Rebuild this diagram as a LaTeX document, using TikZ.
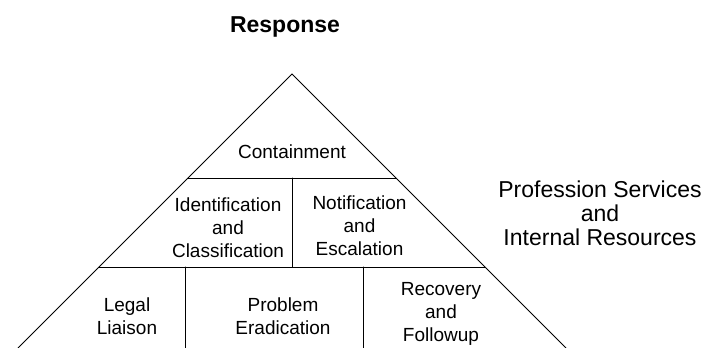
\documentclass[tikz,border=0pt]{standalone}
\usepackage{fontspec}
\setmainfont{Liberation Sans}
\tikzset{
  edge/.style={line width=0.035cm, line cap=round},
  celltext/.style={align=center, inner sep=0pt, font=\fontsize{19bp}{23bp}\selectfont},
  sidetext/.style={align=center, inner sep=0pt, font=\fontsize{23bp}{24bp}\selectfont},
  titletext/.style={inner sep=0pt, font=\fontsize{23bp}{28bp}\selectfont\bfseries}
}
\begin{document}
\begin{tikzpicture}
            \useasboundingbox (0,0) rectangle (24.870833,12.276667);
            
            % Corners of the pyramid
            \coordinate (apex) at (10.301111,9.666111);
            \coordinate (baseL) at (0.635000,0.000000);
            \coordinate (baseR) at (19.967222,0.000000);
            
            % Ends of the two dividing lines
            \coordinate (topL) at (6.632222,5.997222);
            \coordinate (topR) at (13.970000,5.997222);
            \coordinate (topM) at (10.301111,5.997222);
            \coordinate (midL) at (3.492500,2.857500);
            \coordinate (midR) at (17.109722,2.857500);
            \coordinate (midM) at (10.301111,2.857500);
            \coordinate (midA) at (6.526389,2.857500);
            \coordinate (midB) at (12.805833,2.857500);
            \coordinate (botA) at (6.526389,0.000000);
            \coordinate (botB) at (12.805833,0.000000);
            
            % Drawing sides of the pyramid
            \draw [edge] (baseL) -- (apex) -- (baseR);%
            
            % Drawing segment topL topR
            \draw [edge] (topL) -- (topR);%
            \draw [edge] (topM) -- (midM);%
            
            % Drawing segment midL midR
            \draw [edge] (midL) -- (midR);%
            \draw [edge] (midA) -- (botA);%
            \draw [edge] (midB) -- (botB);%
            
            % Title
            \node [titletext] (title) at (10.054167,11.338280) {Response};%
            
            % Texts of the cells
            \node [celltext] (contain) at (10.301111,6.928556) {Containment};%
            \node [celltext] (ident) at (8.043333,4.243917) {Identification\\and\\Classification};%
            \node [celltext] (notif) at (12.682361,4.321528) {Notification\\and\\Escalation};%
            \node [celltext] (legal) at (4.480278,1.111250) {Legal\\Liaison};%
            \node [celltext] (eradic) at (9.983611,1.128889) {Problem\\Eradication};%
            \node [celltext] (recov) at (15.557500,1.217000) {Recovery\\and\\Followup};%
            
            % Text beside the pyramid
            \node [sidetext] (resources) at (21.166667,4.762500) {Profession Services\\and\\Internal Resources};%
        \end{tikzpicture}
\end{document}
